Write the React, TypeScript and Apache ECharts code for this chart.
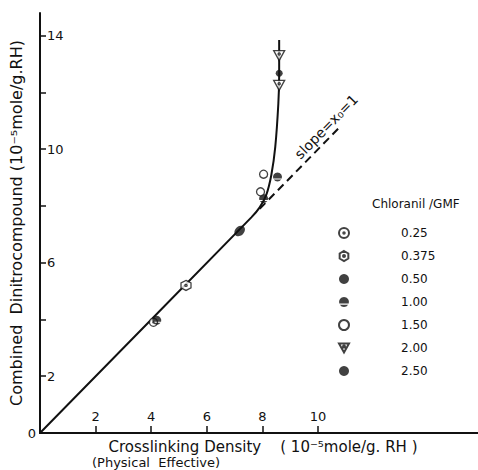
import React, { useEffect, useRef } from "react";
import * as echarts from "echarts";

// ---- data ----
const xTickValues = [2, 4, 6, 8, 10];
const yTickValues = [2, 4, 6, 8, 10, 12, 14];
const yLabelValues = [2, 6, 10, 14];
const concentrations = ["0.25", "0.375", "0.50", "1.00", "1.50", "2.00", "2.50"];
const pts025 = [[4.08, 3.9]];
const pts0375 = [[5.25, 5.2]];
const pts050 = [[7.18, 7.12]];
const pts100 = [[4.2, 3.97], [8.04, 8.26], [8.54, 9.02]];
const pts150 = [[8.04, 9.12], [7.93, 8.5]];
const pts200 = [[8.6, 13.3], [8.6, 12.25]];
const pts250 = [[8.6, 12.68]];
const mainLine = [[0, 0], [7.6, 7.6], [7.9, 7.95], [8.14, 8.4], [8.32, 9.1], [8.46, 10.08], [8.57, 11.6], [8.6, 12.6], [8.6, 13.85]];
const slopeLine = [[7.9, 7.9], [10.8, 10.8]];

const X_MAX = 15.75;
const Y_MAX = 14.8;
const FONT = "DejaVu Sans";
const INK = "#111";

const SYM_RING_DOT = "path://M10 0A10 10 0 1 1 10 20A10 10 0 1 1 10 0ZM10 8.5A1.5 1.5 0 1 1 10 11.5A1.5 1.5 0 1 1 10 8.5Z";
const SYM_HEX_DOT = "path://M10 0L18.66 5L18.66 15L10 20L1.34 15L1.34 5ZM10 8A2 2 0 1 1 10 12A2 2 0 1 1 10 8Z";
const SYM_HALF = "path://M0.46 13A10 10 0 1 1 19.54 13ZM1.65 15.5A10 10 0 0 0 18.35 15.5Z";
const SYM_TRI_DOT = "path://M0 0L20 0L10 18ZM10 4A2 2 0 1 1 10 8A2 2 0 1 1 10 4Z";

export default function App() {
  const ref = useRef<HTMLDivElement>(null);
  useEffect(() => {
    const chart = echarts.init(ref.current!, null, { renderer: "svg" });
    const openStyle = { color: "#fff", borderColor: INK, borderWidth: 1.3 };
    const fillStyle = { color: INK, borderWidth: 0 };
    const scatter = (name: string, data: number[][], symbol: string, size: any, style: any, extra: any = {}) => ({
      name, type: "scatter", data, symbol, symbolSize: size, itemStyle: style, z: 5, ...extra,
    });
    chart.setOption({
      animation: false,
      backgroundColor: "#fff",
      textStyle: { fontFamily: FONT },
      grid: { left: 37, top: 13, right: 0, bottom: 37, containLabel: false },
      legend: {
        data: concentrations,
        orient: "vertical",
        left: 333,
        top: 222,
        itemWidth: 10,
        itemHeight: 10,
        itemGap: 11,
        selectedMode: false,
        textStyle: { fontFamily: FONT, fontSize: 12, color: INK, padding: [0, 0, 0, 47] },
      },
      xAxis: [
        {
          type: "value", min: 0, max: X_MAX, interval: 2,
          name: "Crosslinking Density    ( 10\u207B\u2075mole/g. RH )",
          nameLocation: "middle", nameGap: 3,
          nameTextStyle: { fontFamily: FONT, fontSize: 15, lineHeight: 16, color: INK, verticalAlign: "top", padding: [0, 0, 0, 8] },
          axisLine: { show: true, lineStyle: { color: INK, width: 2 } },
          axisTick: { show: true, inside: true, length: 7, customValues: xTickValues, lineStyle: { color: INK, width: 1.5 } },
          axisLabel: { inside: true, margin: 10, customValues: xTickValues, fontFamily: FONT, fontSize: 13, color: INK },
          splitLine: { show: false },
        },
        {
          type: "value", min: 0, max: X_MAX, position: "top",
          axisLine: { show: true, lineStyle: { color: INK, width: 2 } },
          axisTick: { show: false }, axisLabel: { show: false }, splitLine: { show: false },
        },
      ],
      yAxis: [
        {
          type: "value", min: 0, max: Y_MAX, interval: 2,
          name: "Combined  Dinitrocompound (10\u207B\u2075mole/g.RH)",
          nameLocation: "middle", nameRotate: 90, nameGap: 16,
          nameTextStyle: { fontFamily: FONT, fontSize: 16, color: INK },
          axisLine: { show: true, lineStyle: { color: INK, width: 2 } },
          axisTick: { show: true, inside: true, length: 6, customValues: yTickValues, lineStyle: { color: INK, width: 1.5 } },
          axisLabel: { inside: true, margin: 7, customValues: yLabelValues, fontFamily: FONT, fontSize: 13, color: INK },
          splitLine: { show: false },
        },
        {
          type: "value", min: 0, max: Y_MAX, position: "left",
          axisLine: { show: false }, axisTick: { show: false }, splitLine: { show: false },
          axisLabel: { margin: 4, customValues: [0], fontFamily: FONT, fontSize: 13, color: INK },
        },
      ],
      series: [
        { name: "curve", type: "line", data: mainLine, smooth: 0.3, showSymbol: false, lineStyle: { color: INK, width: 2 }, z: 2 },
        { name: "slope", type: "line", data: slopeLine, showSymbol: false, lineStyle: { color: INK, width: 2, type: [8, 5] }, z: 2 },
        scatter("0.25", pts025, SYM_RING_DOT, 8, openStyle),
        scatter("0.375", pts0375, SYM_HEX_DOT, 10, openStyle),
        scatter("0.50", pts050, "circle", [12, 9], fillStyle, { symbolRotate: 45 }),
        scatter("1.00", pts100, SYM_HALF, 9, fillStyle),
        scatter("1.50", pts150, "circle", 8, openStyle),
        scatter("2.00", pts200, SYM_TRI_DOT, [11, 10], openStyle),
        scatter("2.50", pts250, "circle", 7, fillStyle),
      ],
    });

    const a = chart.convertToPixel({ gridIndex: 0 }, [10.0, 10.0]) as number[];
    const b = chart.convertToPixel({ gridIndex: 0 }, [11.1, 11.1]) as number[];
    const ang = Math.atan2(a[1] - b[1], b[0] - a[0]);
    const d = 10;
    const cx = (a[0] + b[0]) / 2 - d * Math.sin(ang);
    const cy = (a[1] + b[1]) / 2 - d * Math.cos(ang);
    chart.setOption({
      graphic: [
        {
          type: "text", x: cx, y: cy, rotation: ang,
          style: { text: "slope=x\u2080=1", fontFamily: FONT, fontSize: 14, fill: INK, align: "center", verticalAlign: "middle" },
        },
        {
          type: "text", left: 372, top: 198,
          style: { text: "Chloranil /GMF", fontFamily: FONT, fontSize: 12, fill: INK },
        },
        {
          type: "text", left: 92, top: 456,
          style: { text: "(Physical  Effective)", fontFamily: FONT, fontSize: 13, lineHeight: 13, fill: INK },
        },
      ],
    });
    return () => chart.dispose();
  }, []);
  return <div ref={ref} style={{ position: "fixed", left: 0, top: 0, width: 478, height: 470 }} />;
}
